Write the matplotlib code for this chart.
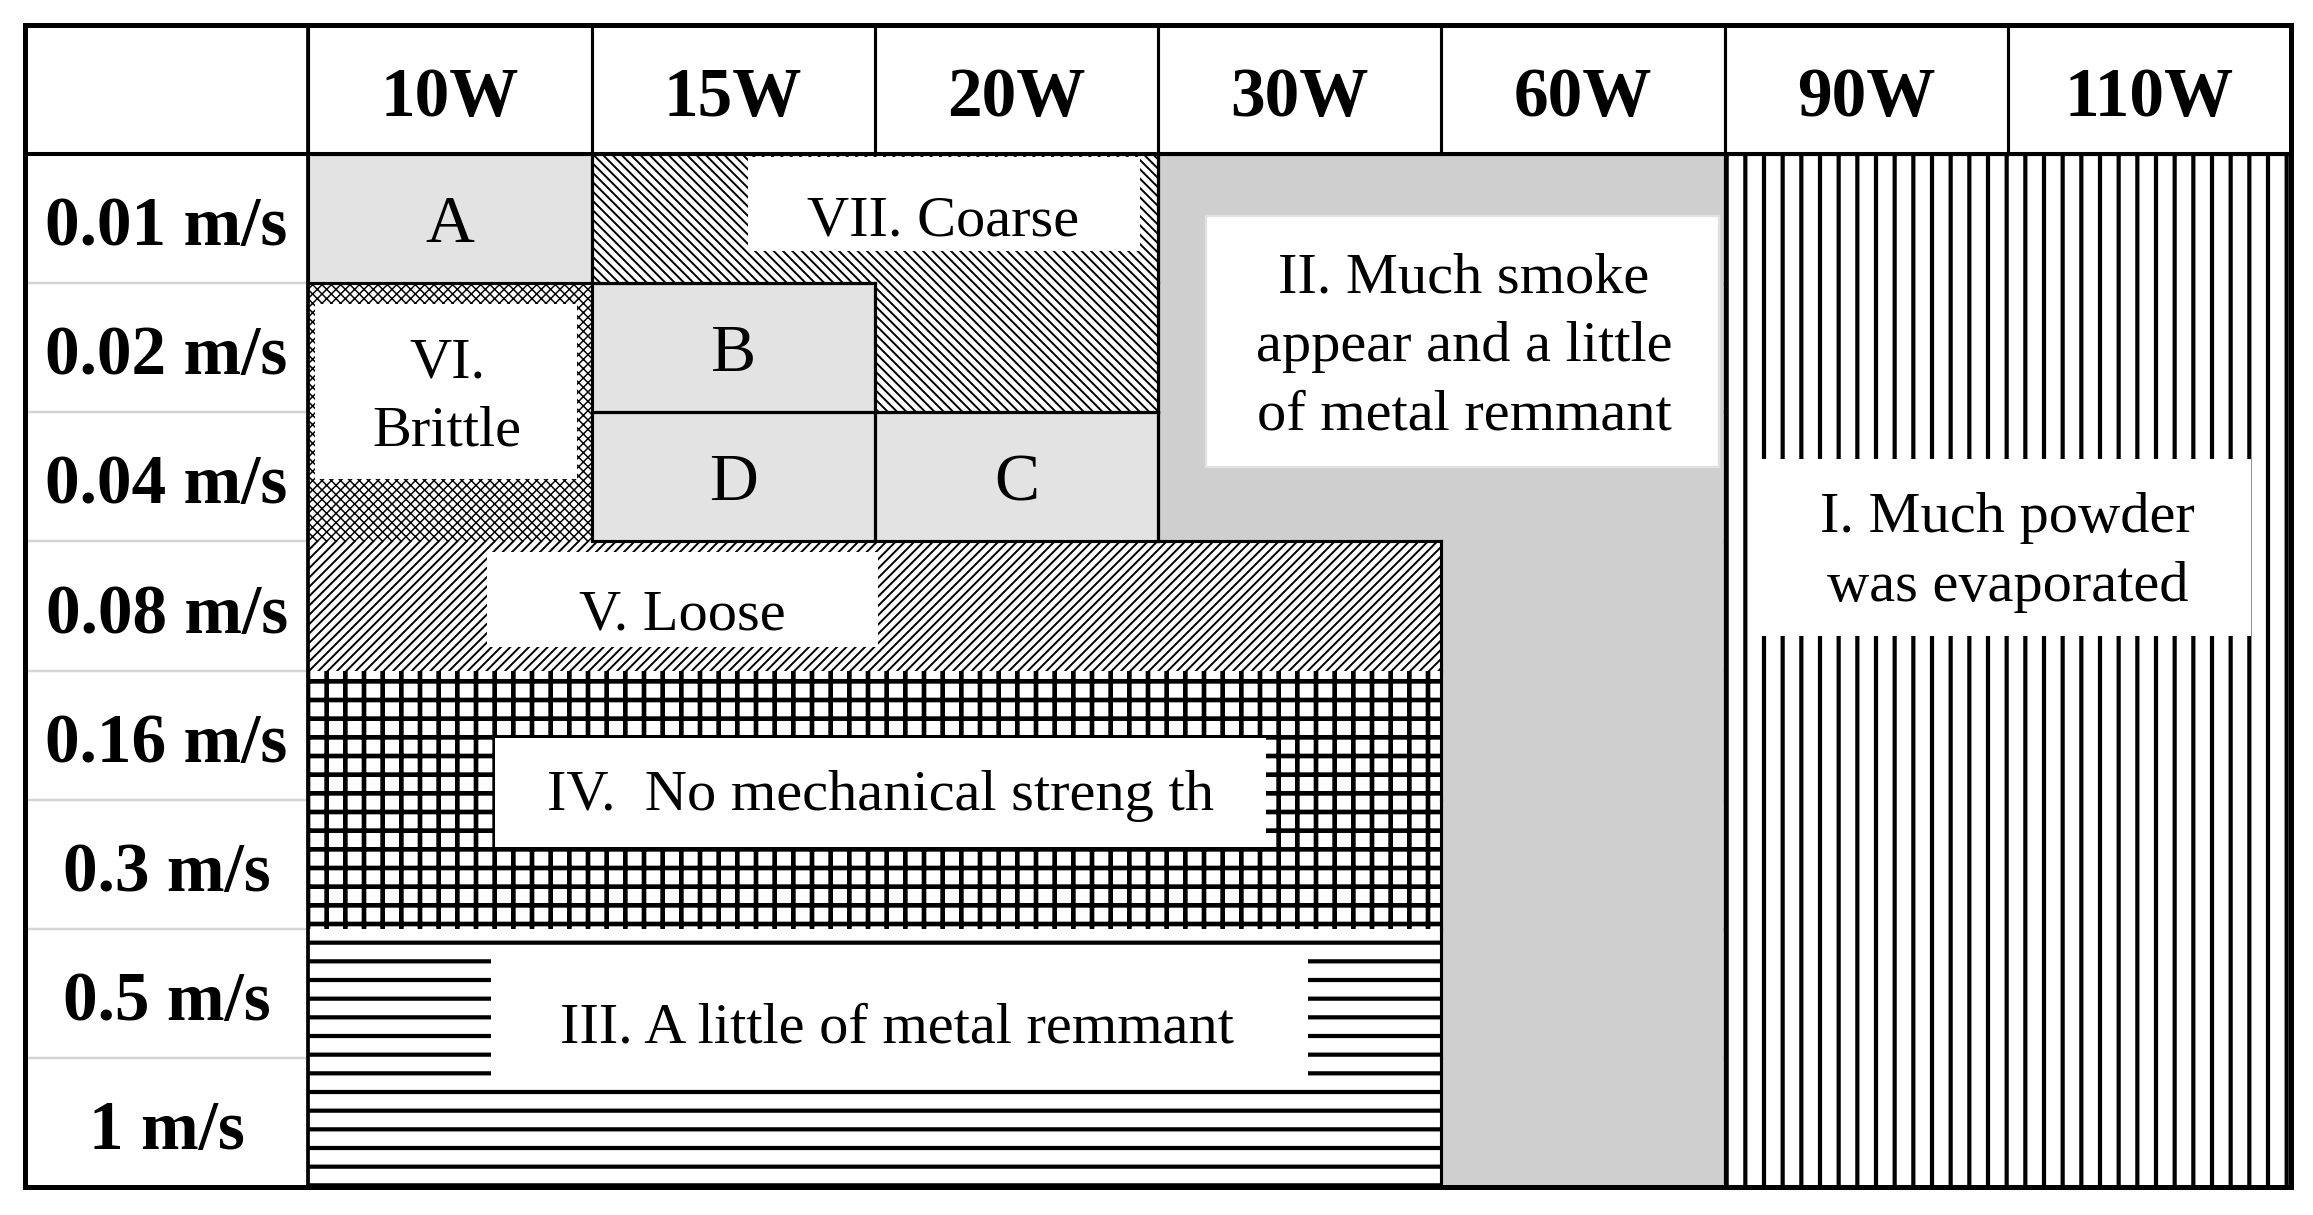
import matplotlib.pyplot as plt
from matplotlib.patches import Rectangle
from matplotlib.collections import LineCollection
from matplotlib.transforms import offset_copy

powers = ['10W', '15W', '20W', '30W', '60W', '90W', '110W']
speeds = ['0.01 m/s', '0.02 m/s', '0.04 m/s', '0.08 m/s', '0.16 m/s',
          '0.3 m/s', '0.5 m/s', '1 m/s']

# single test points: (grade, power, speed)
grades = [('A', '10W', '0.01 m/s'), ('B', '15W', '0.02 m/s'),
          ('D', '15W', '0.04 m/s'), ('C', '20W', '0.04 m/s')]

# process zones: text and blocks of cells (first power, last power, first speed, last speed)
zone_text = {
    'I': 'I. Much powder\nwas evaporated',
    'II': 'II. Much smoke\nappear and a little\nof metal remmant',
    'III': 'III. A little of metal remmant',
    'IV': 'IV.  No mechanical streng th',
    'V': 'V. Loose',
    'VI': 'VI.\nBrittle',
    'VII': 'VII. Coarse',
}
zone_blocks = {
    'I': [('90W', '110W', '0.01 m/s', '1 m/s')],
    'II': [('30W', '60W', '0.01 m/s', '0.04 m/s'), ('60W', '60W', '0.08 m/s', '1 m/s')],
    'III': [('10W', '30W', '0.5 m/s', '1 m/s')],
    'IV': [('10W', '30W', '0.16 m/s', '0.3 m/s')],
    'V': [('10W', '30W', '0.08 m/s', '0.08 m/s')],
    'VI': [('10W', '10W', '0.02 m/s', '0.04 m/s')],
    'VII': [('15W', '20W', '0.01 m/s', '0.01 m/s'), ('20W', '20W', '0.02 m/s', '0.02 m/s')],
}

# look of each zone: fill, hatch, hatch width (pt), outlined, white label box (x0, x1, y0, y1), text centre
zone_style = {
    'I': dict(fc='white', hatch='|', hlw=2.7, edge=True, box=(5.12, 6.86, 2.36, 3.73), xy=(6.0, 3.04)),
    'II': dict(fc='#d0cfd0', hatch=None, hlw=1, edge=True, box=(3.17, 4.98, 0.48, 2.42), xy=(4.08, 1.45)),
    'III': dict(fc='white', hatch='-', hlw=2.7, edge=False, box=(0.646, 3.53, 6.21, 7.18), xy=(2.08, 6.73)),
    'IV': dict(fc='white', hatch='+', hlw=3.0, edge=False, box=(0.66, 3.38, 4.52, 5.37), xy=(2.02, 4.93)),
    'V': dict(fc='white', hatch='////', hlw=1.25, edge=False, box=(0.63, 2.01, 3.08, 3.82), xy=(1.32, 3.53)),
    'VI': dict(fc='white', hatch='xxxx', hlw=0.95, edge=False, box=(0.025, 0.95, 1.16, 2.52), xy=(0.49, 1.84)),
    'VII': dict(fc='white', hatch='\\\\\\\\', hlw=1.25, edge=True, box=(1.553, 2.937, 0.02, 0.75), xy=(2.24, 0.48)),
}

plt.rcParams['font.family'] = ['Liberation Serif', 'DejaVu Serif']
plt.rcParams['hatch.linewidth'] = 2.4

dpi = 112
fig = plt.figure(figsize=(2313 / dpi, 1215 / dpi), dpi=dpi)
ax = fig.add_axes([25 / 2313, 1 - 1187 / 1215, 2266 / 2313, 1162 / 1215])
ax.set_xlim(-1, len(powers))
ax.set_ylim(len(speeds), -1)
ax.axis('off')

px = {p: i for i, p in enumerate(powers)}
sy = {s: i for i, s in enumerate(speeds)}


def cells_of(blocks):
    out = set()
    for p0, p1, s0, s1 in blocks:
        for c in range(px[p0], px[p1] + 1):
            for r in range(sy[s0], sy[s1] + 1):
                out.add((c, r))
    return out


def outline(cells):
    segs = []
    for c, r in cells:
        if (c, r - 1) not in cells:
            segs.append([(c, r), (c + 1, r)])
        if (c, r + 1) not in cells:
            segs.append([(c, r + 1), (c + 1, r + 1)])
        if (c - 1, r) not in cells:
            segs.append([(c, r), (c, r + 1)])
        if (c + 1, r) not in cells:
            segs.append([(c + 1, r), (c + 1, r + 1)])
    return segs


def label(x, y, s, fs, **kw):
    tr = offset_copy(ax.transData, fig=fig, y=-0.1 * fs, units='points')
    ax.text(x, y, s, fontsize=fs, ha='center', va='center', transform=tr,
            zorder=6, **kw)


for z, blocks in zone_blocks.items():
    st = zone_style[z]
    for p0, p1, s0, s1 in blocks:
        c0, c1 = px[p0], px[p1] + 1
        r0, r1 = sy[s0], sy[s1] + 1
        rect = Rectangle((c0, r0), c1 - c0, r1 - r0, facecolor=st['fc'],
                         edgecolor='black', linewidth=0, hatch=st['hatch'],
                         antialiased=False, zorder=1)
        if hasattr(rect, 'set_hatch_linewidth'):
            rect.set_hatch_linewidth(st['hlw'])
        ax.add_patch(rect)
    x0, x1, y0, y1 = st['box']
    ax.add_patch(Rectangle((x0, y0), x1 - x0, y1 - y0, facecolor='white',
                           edgecolor='#e2e2e2' if z == 'II' else 'none',
                           linewidth=1.5, zorder=2))
    if st['edge']:
        ax.add_collection(LineCollection(outline(cells_of(blocks)), colors='black',
                                         linewidths=2.0, zorder=4, capstyle='projecting'))
    label(st['xy'][0], st['xy'][1], zone_text[z], 37.5, linespacing=1.42)

for g, p, s in grades:
    c, r = px[p], sy[s]
    ax.add_patch(Rectangle((c, r), 1, 1, facecolor='#e3e3e3', edgecolor='none', zorder=3))
    ax.add_collection(LineCollection(outline({(c, r)}), colors='black',
                                     linewidths=2.0, zorder=4, capstyle='projecting'))
    label(c + 0.5, r + 0.5, g, 43.5)

# table frame
ax.hlines(range(1, len(speeds)), -1, 0, colors='#d4d4d4', linewidth=1.6, zorder=5)
ax.vlines(range(0, len(powers)), -1, 0, colors='black', linewidth=2.0, zorder=5)
ax.hlines(0, -1, len(powers), colors='black', linewidth=2.6, zorder=5)
ax.vlines(0, -1, len(speeds), colors='black', linewidth=2.4, zorder=5)
ax.add_patch(Rectangle((-1, -1), len(powers) + 1, len(speeds) + 1, fill=False,
                       edgecolor='black', linewidth=3.2, zorder=7, clip_on=False))

for i, p in enumerate(powers):
    label(i + 0.5, -0.48, p, 44.5, fontweight='bold')
for j, s in enumerate(speeds):
    label(-0.5, j + 0.52, s, 44.5, fontweight='bold')

fig.savefig('out.png', dpi=dpi, facecolor='white')
